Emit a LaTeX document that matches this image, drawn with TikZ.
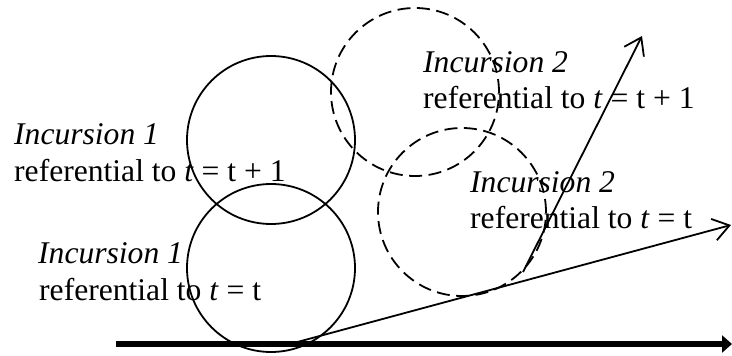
\documentclass[tikz,border=0pt]{standalone}
\usepackage{fontspec}
\setmainfont{Liberation Serif}
\usetikzlibrary{arrows.meta}
\tikzset{
  ring/.style={draw, circle, minimum size=168pt, inner sep=0pt, line width=1.8pt},
  dring/.style={ring, dash pattern=on 13pt off 6.5pt},
  lbl/.style={anchor=base west, inner sep=0pt, font=\fontsize{31.6}{36}\selectfont},
  thin/.style={line width=1.8pt, -{Straight Barb[length=16pt,width=22pt,line width=1.8pt]}},
  axis/.style={line width=6pt, -{Triangle[length=10pt,width=17pt]}}
}
\begin{document}
\begin{tikzpicture}[x=1pt,y=-1pt]
\useasboundingbox (0,0) rectangle (732,356);
\node[ring] (c1) at (271,268) {};
\node[ring] (c2) at (271,140) {};
\node[dring] (d1) at (415,92) {};
\node[dring] (d2) at (462,212) {};
\coordinate (a0) at (116,344);
\coordinate (a1) at (732,344);
\coordinate (p0) at (290,344);
\coordinate (p1) at (731,225);
\coordinate (q0) at (523,272);
\coordinate (q1) at (642,36);
\draw[axis] (a0) -- (a1);
\draw[thin] (p0) -- (p1);
\draw[thin] (q0) -- (q1);
\node[lbl] (t1a) at (14,144) {\textit{Incursion 1}};
\node[lbl] (t1b) at (14,181) {referential to \textit{t} = t + 1};
\node[lbl] (t2a) at (38,263) {\textit{Incursion 1}};
\node[lbl] (t2b) at (39,300) {referential to \textit{t} = t};
\node[lbl] (t3a) at (423,72) {\textit{Incursion 2}};
\node[lbl] (t3b) at (423,108) {referential to \textit{t} = t + 1};
\node[lbl] (t4a) at (470,192) {\textit{Incursion 2}};
\node[lbl] (t4b) at (470,228) {referential to \textit{t} = t};
\end{tikzpicture}
\end{document}
